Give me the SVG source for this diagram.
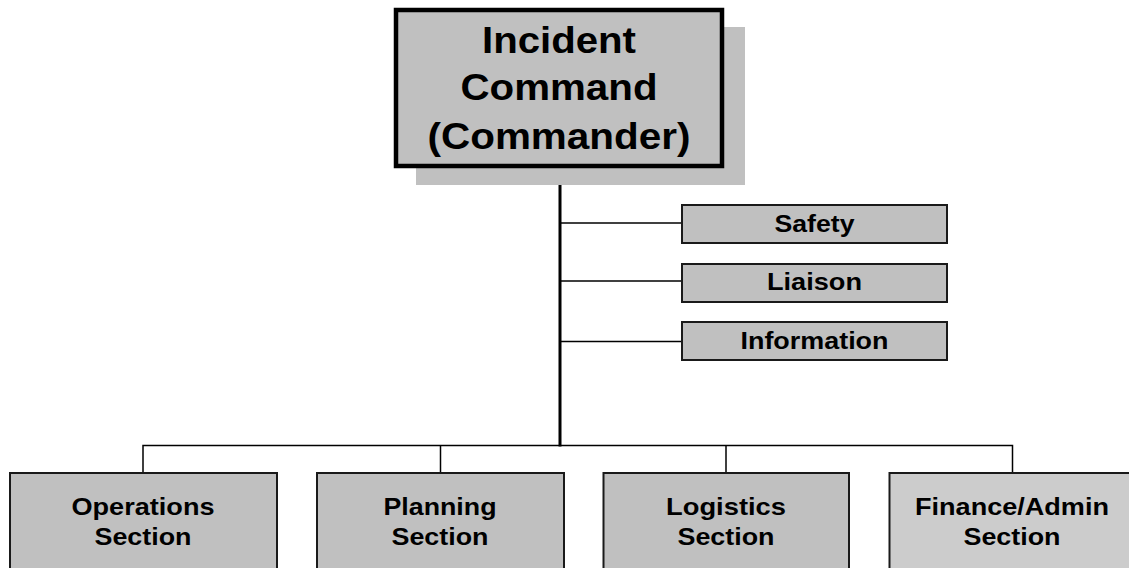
<svg xmlns="http://www.w3.org/2000/svg" width="1129" height="568" viewBox="0 0 1129 568">
<style>
text{font-family:"Liberation Sans",Arial,sans-serif;font-weight:bold;fill:#000;text-anchor:middle}
.big{font-size:36px}
.sm{font-size:24px}
.box{fill:#c0c0c0;stroke:#1a1a1a;stroke-width:2}
.fin{fill:#cccccc;stroke:#1a1a1a;stroke-width:2}
.ln{stroke:#000;stroke-width:1.5;fill:none}
</style>
<rect width="1129" height="568" fill="#fff"/>
<g id="connectors">
<line class="ln" x1="560" y1="223" x2="682" y2="223"/>
<line class="ln" x1="560" y1="281" x2="682" y2="281"/>
<line class="ln" x1="560" y1="341.5" x2="682" y2="341.5"/>
<polyline class="ln" points="143,473 143,445.5 1012.5,445.5 1012.5,473"/>
<line class="ln" x1="440.5" y1="445.5" x2="440.5" y2="473"/>
<line class="ln" x1="726" y1="445.5" x2="726" y2="473"/>
<line x1="560" y1="166" x2="560" y2="446.5" stroke="#000" stroke-width="3"/>
</g>
<g id="incident-command">
<rect x="416" y="27" width="329" height="158" fill="#c0c0c0"/>
<rect x="396" y="10" width="326" height="156" fill="#c0c0c0" stroke="#000" stroke-width="4.5"/>
<text class="big" x="559" y="52.5" textLength="154" lengthAdjust="spacingAndGlyphs">Incident</text>
<text class="big" x="559" y="100" textLength="197" lengthAdjust="spacingAndGlyphs">Command</text>
<text class="big" x="559" y="149" textLength="263" lengthAdjust="spacingAndGlyphs">(Commander)</text>
</g>
<g id="safety">
<rect class="box" x="682" y="205" width="265" height="38"/>
<text class="sm" x="814.5" y="231.5" textLength="80" lengthAdjust="spacingAndGlyphs">Safety</text>
</g>
<g id="liaison">
<rect class="box" x="682" y="264" width="265" height="38"/>
<text class="sm" x="814.5" y="290" textLength="95" lengthAdjust="spacingAndGlyphs">Liaison</text>
</g>
<g id="information">
<rect class="box" x="682" y="322" width="265" height="38"/>
<text class="sm" x="814.5" y="348.5" textLength="148" lengthAdjust="spacingAndGlyphs">Information</text>
</g>
<g id="operations">
<rect class="box" x="10" y="473" width="267" height="120"/>
<text class="sm" x="143" y="514.5" textLength="143" lengthAdjust="spacingAndGlyphs">Operations</text>
<text class="sm" x="143" y="545" textLength="97" lengthAdjust="spacingAndGlyphs">Section</text>
</g>
<g id="planning">
<rect class="box" x="317" y="473" width="247" height="120"/>
<text class="sm" x="440" y="514.5" textLength="113" lengthAdjust="spacingAndGlyphs">Planning</text>
<text class="sm" x="440" y="545" textLength="97" lengthAdjust="spacingAndGlyphs">Section</text>
</g>
<g id="logistics">
<rect class="box" x="603.5" y="473" width="245.5" height="120"/>
<text class="sm" x="726" y="514.5" textLength="120" lengthAdjust="spacingAndGlyphs">Logistics</text>
<text class="sm" x="726" y="545" textLength="97" lengthAdjust="spacingAndGlyphs">Section</text>
</g>
<g id="finance-admin">
<rect class="fin" x="889.5" y="473" width="246" height="120"/>
<text class="sm" x="1012" y="514.5" textLength="194" lengthAdjust="spacingAndGlyphs">Finance/Admin</text>
<text class="sm" x="1012" y="545" textLength="97" lengthAdjust="spacingAndGlyphs">Section</text>
</g>
</svg>
